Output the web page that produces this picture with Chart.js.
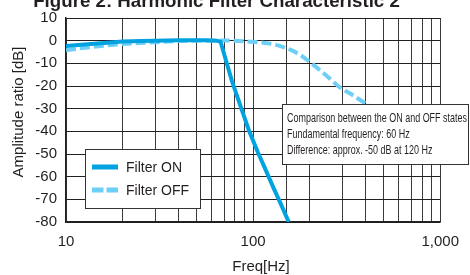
<!DOCTYPE html>
<html>
<head>
<meta charset="utf-8">
<script src="https://cdn.jsdelivr.net/npm/chart.js@4.4.1/dist/chart.umd.min.js"></script>
<style>
  html, body { margin: 0; padding: 0; background: #fff; }
  #chart { display: block; }
</style>
</head>
<body>
<canvas id="chart" width="470" height="275"></canvas>
<script>
// Figure 2: Harmonic Filter Characteristic 2

var onFreq  = [10, 13, 16, 20, 25, 30, 40, 55, 64, 67, 77, 87, 95, 106, 117, 128, 140, 155];
var onDb    = [-2.4, -1.6, -1.0, -0.4, -0.1, 0, 0.2, 0.2, 0, -0.5, -17.7, -30.5, -39.6, -49.2, -57.2, -64.6, -71.7, -80];

var offFreq = [10, 13, 16, 20, 30, 40, 50, 70, 90, 100, 120, 140, 160, 180, 200, 240, 292, 340, 392, 500, 700, 1000];
var offDb   = [-4.2, -3.0, -2.2, -1.5, -0.7, -0.2, 0, 0.1, -0.3, -0.5, -1.2, -2.4, -4.2, -6.5, -9.3, -14.6, -20.7, -24, -27.3, -32, -38, -44];

var seriesLabels = ["Filter ON", "Filter OFF"];
var yTicks = [10, 0, -10, -20, -30, -40, -50, -60, -70, -80];
var noteLines = [
    "Comparison between the ON and OFF states",
    "Fundamental frequency: 60 Hz",
    "Difference: approx. -50 dB at 120 Hz"
];

var ON_COLOR = "#00a3e0";
var OFF_COLOR = "#6dcff6";
var INK = "#231f20";
var FONT = "'Liberation Sans', Arial, sans-serif";

function toPoints(xs, ys) {
    return xs.map(function (x, i) { return { x: x, y: ys[i] }; });
}

// Title, axis titles, legend box and note box
var overlay = {
    id: "overlay",
    afterDatasetsDraw: function (chart) {
        var ctx = chart.ctx;
        var ds = chart.data.datasets;
        ctx.save();

        // legend box
        ctx.fillStyle = "#fff";
        ctx.fillRect(85.5, 149.5, 115, 59);
        ctx.strokeStyle = "#333";
        ctx.lineWidth = 1;
        ctx.strokeRect(85.5, 149.5, 115, 59);
        var rows = [167, 190];
        ds.forEach(function (d, i) {
            ctx.beginPath();
            ctx.strokeStyle = d.borderColor;
            ctx.lineWidth = 5;
            ctx.setLineDash(i === 0 ? [] : [11.5, 3]);
            ctx.moveTo(92, rows[i]);
            ctx.lineTo(118, rows[i]);
            ctx.stroke();
            ctx.setLineDash([]);
            ctx.fillStyle = INK;
            ctx.font = "14px " + FONT;
            ctx.textAlign = "left";
            ctx.textBaseline = "middle";
            ctx.fillText(d.label, 126, rows[i] + 1);
        });

        // note box
        ctx.fillStyle = "#fff";
        ctx.fillRect(282.5, 104.5, 186, 60);
        ctx.strokeStyle = "#333";
        ctx.lineWidth = 1;
        ctx.strokeRect(282.5, 104.5, 186, 60);
        ctx.font = "13.5px 'Liberation Sans Narrow', " + FONT;
        var sx = 180 / ctx.measureText(noteLines[0]).width;
        ctx.fillStyle = INK;
        ctx.textAlign = "left";
        ctx.textBaseline = "middle";
        [118, 134, 150].forEach(function (y, i) {
            ctx.save();
            ctx.translate(287, y);
            ctx.scale(sx, 1);
            ctx.fillText(noteLines[i], 0, 0);
            ctx.restore();
        });
        ctx.restore();
    },
    afterDraw: function (chart) {
        var ctx = chart.ctx;
        ctx.save();
        ctx.fillStyle = INK;

        // chart title (cut off at the top in the original)
        ctx.font = "bold 18.7px " + FONT;
        ctx.textAlign = "center";
        ctx.textBaseline = "alphabetic";
        ctx.fillText("Figure 2: Harmonic Filter Characteristic 2", 216.5, 7);

        // axis titles
        ctx.font = "15px " + FONT;
        ctx.textBaseline = "middle";
        ctx.fillText("Freq[Hz]", 261, 267);
        ctx.translate(19, 112);
        ctx.rotate(-Math.PI / 2);
        ctx.fillText("Amplitude ratio [dB]", 0, 0);
        ctx.restore();
    }
};

var config = {
    type: "line",
    data: {
        datasets: [
            {
                label: seriesLabels[0],
                data: toPoints(onFreq, onDb),
                borderColor: ON_COLOR,
                borderWidth: 4,
                pointRadius: 0,
                tension: 0,
                fill: false
            },
            {
                label: seriesLabels[1],
                data: toPoints(offFreq, offDb),
                borderColor: OFF_COLOR,
                borderWidth: 4,
                borderDash: [10, 4],
                pointRadius: 0,
                cubicInterpolationMode: "monotone",
                fill: false
            }
        ]
    },
    options: {
        responsive: false,
        animation: false,
        devicePixelRatio: 1,
        layout: { padding: { left: 0, right: 27, top: 17, bottom: 0 } },
        plugins: {
            legend: { display: false },
            title: { display: false },
            tooltip: { enabled: false }
        },
        scales: {
            x: {
                type: "logarithmic",
                min: 10,
                max: 1000,
                afterFit: function (scale) { scale.height = 53; },
                grid: { color: "#3a3a3a", lineWidth: 1, drawTicks: false },
                border: { color: INK, width: 1.5 },
                ticks: {
                    autoSkip: false,
                    maxRotation: 0,
                    padding: 11,
                    color: INK,
                    font: { family: FONT, size: 15 },
                    callback: function (v) {
                        var l = Math.log10(v);
                        return Math.abs(l - Math.round(l)) < 1e-9 ? v.toLocaleString("en-US") : "";
                    }
                }
            },
            y: {
                min: yTicks[yTicks.length - 1],
                max: yTicks[0],
                afterFit: function (scale) { scale.width = 66; },
                grid: { color: INK, lineWidth: 1, drawTicks: false },
                border: { color: INK, width: 1.5 },
                ticks: {
                    stepSize: 10,
                    padding: 9,
                    color: INK,
                    font: { family: FONT, size: 15 }
                }
            }
        }
    },
    plugins: [overlay]
};

new Chart(document.getElementById("chart").getContext("2d"), config);
</script>
</body>
</html>
